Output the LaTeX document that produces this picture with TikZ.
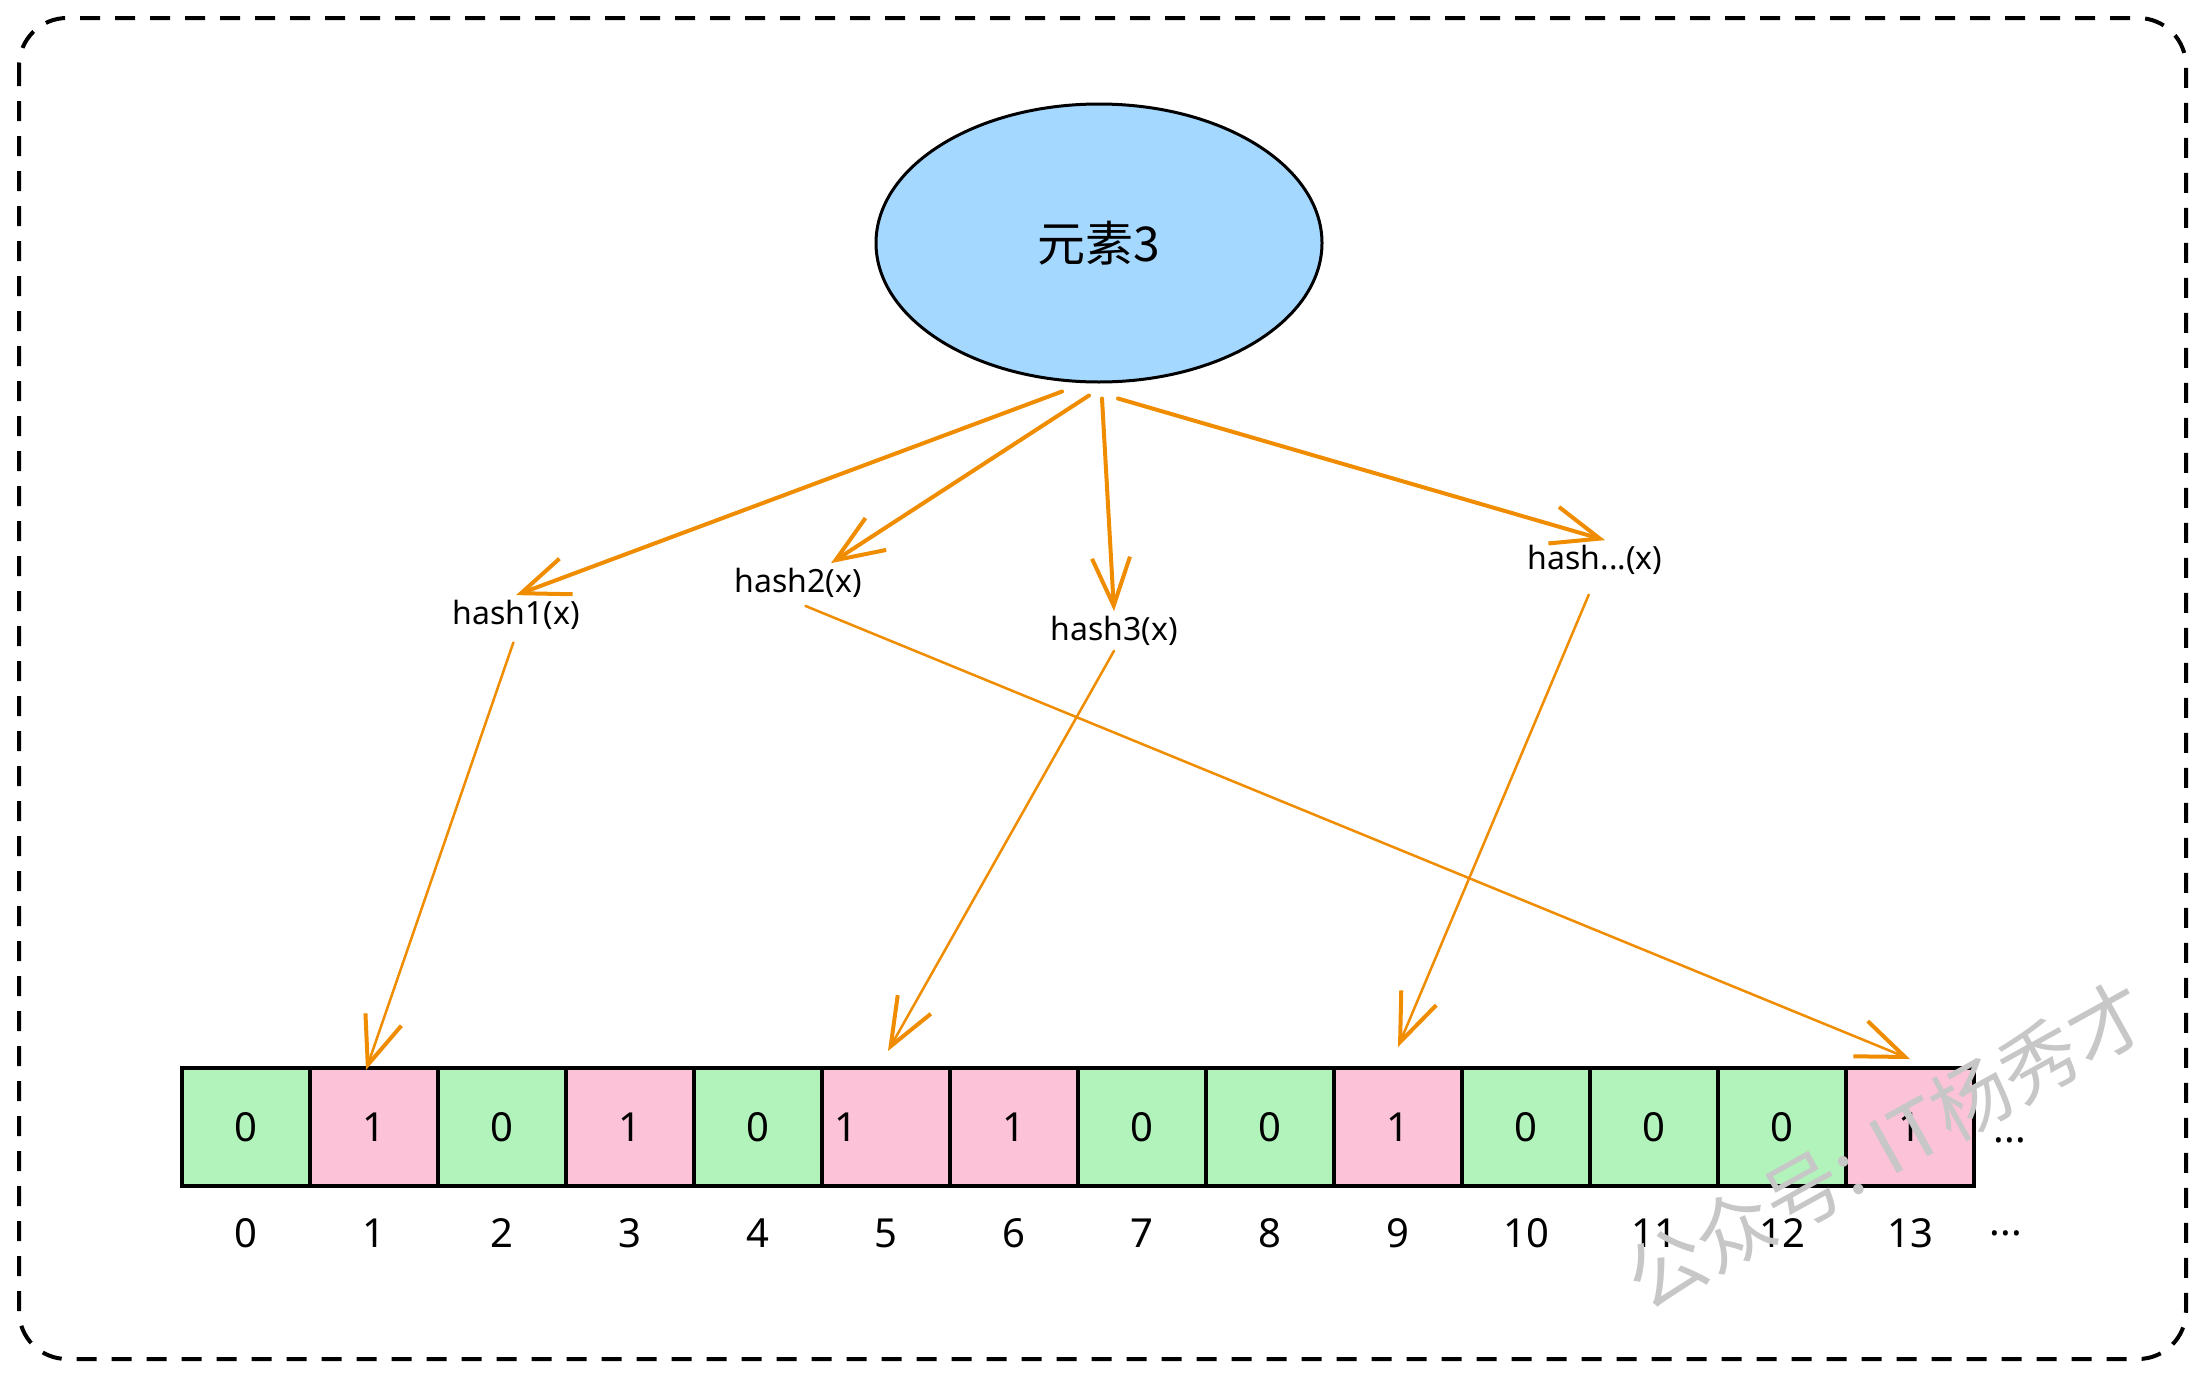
\documentclass[tikz,border=0pt]{standalone}
\usepackage{fontspec}
\setmainfont{Noto Sans}
\newfontfamily\cjk{Noto Sans CJK SC}
\usetikzlibrary{arrows.meta,shapes.geometric}

\definecolor{elemblue}{HTML}{A5D8FF}
\definecolor{bitgreen}{HTML}{B2F2BB}
\definecolor{bitpink}{HTML}{FCC2D7}
\definecolor{hashorange}{HTML}{F08C00}

\tikzset{
  bitzero/.style={draw,line width=4pt,fill=bitgreen,minimum width=128pt,
    minimum height=118pt,inner sep=0pt,font=\fontsize{40}{40}\selectfont},
  bitone/.style={bitzero,fill=bitpink},
  idx/.style={font=\fontsize{40}{40}\selectfont},
  fn/.style={font=\fontsize{32}{32}\selectfont,inner sep=5pt},
  hasharrow/.style={draw=hashorange,line width=4pt,line cap=round,
    -{Straight Barb[length=48pt,width=38pt,line width=4pt]}},
  maparrow/.style={hasharrow,line width=2.5pt},
}

\begin{document}
\begin{tikzpicture}[x=1pt,y=-1pt]
    \useasboundingbox (0,0) rectangle (2206,1376);
    \draw [line width=4pt,dash pattern=on 20pt off 15pt,rounded corners=48pt]
	(19,18) rectangle (2186,1359);

    \path (1099,243) node [ellipse,draw,line width=3pt,fill=elemblue,
	minimum width=446pt,minimum height=278pt,
	font=\cjk\fontsize{48}{48}\selectfont] (elem) {元素3};

    \path ( 516,615) node [fn] (h1) {hash1(x)};
    \path ( 798,583) node [fn] (h2) {hash2(x)};
    \path (1114,631) node [fn] (h3) {hash3(x)};
    \path (1595,560) node [fn] (hdots) {hash...(x)};

    % bit array
    \path ( 246,1127) node [bitzero] (c0) {0};
    \path ( 374,1127) node [bitone] (c1) {1};
    \path ( 502,1127) node [bitzero] (c2) {0};
    \path ( 630,1127) node [bitone] (c3) {1};
    \path ( 758,1127) node [bitzero] (c4) {0};
    \path ( 886,1127) node [bitone,text width=104pt,align=left] (c5) {1};
    \path (1014,1127) node [bitone] (c6) {1};
    \path (1142,1127) node [bitzero] (c7) {0};
    \path (1270,1127) node [bitzero] (c8) {0};
    \path (1398,1127) node [bitone] (c9) {1};
    \path (1526,1127) node [bitzero] (c10) {0};
    \path (1654,1127) node [bitzero] (c11) {0};
    \path (1782,1127) node [bitzero] (c12) {0};
    \path (1910,1127) node [bitone] (c13) {1};
    \path (2010,1140) node [idx] (cmore) {...};

    % indices
    \path ( 246,1233) node [idx] (i0) {0};
    \path ( 374,1233) node [idx] (i1) {1};
    \path ( 502,1233) node [idx] (i2) {2};
    \path ( 630,1233) node [idx] (i3) {3};
    \path ( 758,1233) node [idx] (i4) {4};
    \path ( 886,1233) node [idx] (i5) {5};
    \path (1014,1233) node [idx] (i6) {6};
    \path (1142,1233) node [idx] (i7) {7};
    \path (1270,1233) node [idx] (i8) {8};
    \path (1398,1233) node [idx] (i9) {9};
    \path (1526,1233) node [idx] (i10) {10};
    \path (1654,1233) node [idx] (i11) {11};
    \path (1782,1233) node [idx] (i12) {12};
    \path (1910,1233) node [idx] (i13) {13};
    \path (2006,1233) node [idx] (imore) {...};

    \draw [hasharrow] ([xshift=-37pt,yshift=-8pt]elem.south) -- (h1.north);
    \draw [hasharrow] ([xshift=-10pt,yshift=-12pt]elem.south)
	-- ([xshift=33pt]h2.north);
    \draw [hasharrow] ([xshift=3pt,yshift=-15pt]elem.south) -- (h3.north);
    \draw [hasharrow] ([xshift=19pt,yshift=-15pt]elem.south)
	-- ([xshift=10pt]hdots.north);

    \draw [maparrow,shorten <=8pt] (h1.south) -- ([xshift=-8pt,yshift=-4pt]c1.north);
    \draw [maparrow,shorten <=8pt] (h2.south) -- ([yshift=7pt]c13.north);
    \draw [maparrow] (h3.south) -- ([xshift=2pt,yshift=15pt]c5.north);
    \draw [maparrow,shorten <=16pt] (hdots.south) -- ([yshift=19pt]c9.north);

    \path (1887,1145) node [rotate=29,text=black!22,
	font=\cjk\fontsize{78}{78}\selectfont] (mark) {公众号: IT杨秀才};
\end{tikzpicture}
\end{document}
